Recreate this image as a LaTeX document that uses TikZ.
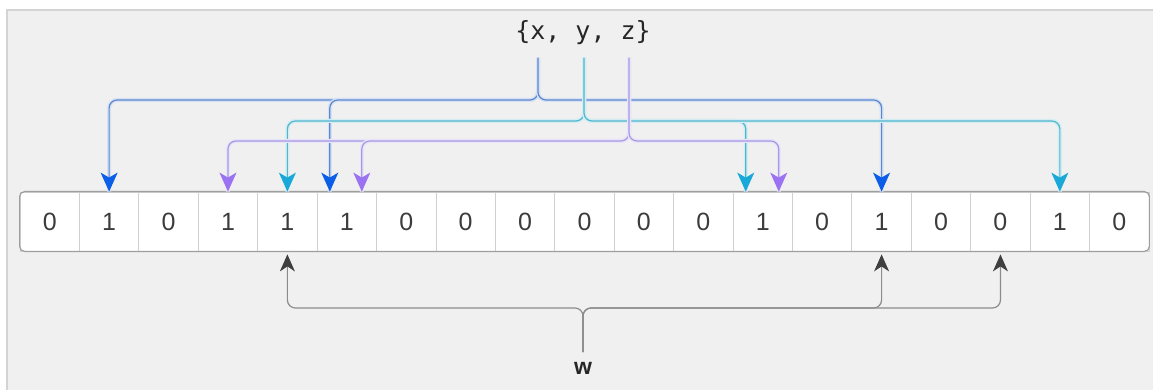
\documentclass[tikz,border=0pt]{standalone}
\usepackage{fontspec}
\setmainfont{Liberation Sans}
\newfontfamily\codefont{DejaVu Sans Mono}
\usetikzlibrary{arrows.meta}

\definecolor{panelbg}{HTML}{F0F0F0}
\definecolor{panelrule}{HTML}{D4D4D4}
\definecolor{cellrule}{HTML}{D0D0D0}
\definecolor{arrayrule}{HTML}{9E9E9E}
\definecolor{digit}{HTML}{3C3C3C}
\definecolor{xline}{HTML}{5A86CF}
\definecolor{xhead}{HTML}{0B5EE8}
\definecolor{yline}{HTML}{4FB6CF}
\definecolor{yhead}{HTML}{19A9D9}
\definecolor{zline}{HTML}{A797E4}
\definecolor{zhead}{HTML}{9B72F2}
\definecolor{wline}{HTML}{8C8C8C}
\definecolor{whead}{HTML}{3F3F3F}

\tikzset{
  cell/.style={draw=cellrule, fill=white, line width=0.8pt,
    minimum width=59.42pt, minimum height=59pt, inner sep=0pt,
    text=digit, font=\fontsize{25}{29}\selectfont},
  link/.style={line width=1.2pt, rounded corners=8pt,
    preaction={draw=#1!25, line width=4pt, -}},
  headtip/.style={-{Stealth[length=19pt,width=17pt,inset=5pt,color=#1]}},
  xlink/.style={link=xline, draw=xline, headtip=xhead},
  ylink/.style={link=yline, draw=yline, headtip=yhead},
  zlink/.style={link=zline, draw=zline, headtip=zhead},
  wlink/.style={line width=1.2pt, rounded corners=8pt, draw=wline, shorten >=3pt,
    -{Stealth[length=17pt,width=15pt,inset=5pt,color=whead]}},
}

\begin{document}
\begin{tikzpicture}[x=1pt, y=-1pt]
  \useasboundingbox (0,0) rectangle (1153,390);

  % panel
  \fill[panelbg] (7,10) rectangle (1153,390);
  \draw[panelrule, line width=1.2pt] (7,390) -- (7,10) -- (1153,10);

  % bit array
  \foreach \v [count=\i from 0] in {0,1,0,1,1,1,0,0,0,0,0,0,1,0,1,0,0,1,0}
    \node[cell] (c\i) at ({20+59.42*(\i+0.5)}, 221.5) {\v};
  \draw[arrayrule, line width=1.2pt, rounded corners=5pt]
    (c0.north west) rectangle (c18.south east);

  % element set and its hash fan-out
  \node[font=\codefont\fontsize{25}{29}\selectfont, text=black!85] (xyz) at (583,33) {\{x, y, z\}};
  \coordinate (sx) at (538,58);
  \coordinate (sy) at (584,58);
  \coordinate (sz) at (629,58);

  \draw[xlink] (sx) -- ++(0,42) -| (c1.north);
  \draw[xlink] (sx) -- ++(0,42) -| ([xshift=-17pt]c5.north);
  \draw[xlink] (sx) -- ++(0,42) -| (c14.north);

  \draw[ylink] (sy) -- ++(0,63) -| (c4.north);
  \draw[ylink] (sy) -- ++(0,63) -| ([xshift=-17pt]c12.north);
  \draw[ylink] (sy) -- ++(0,63) -| (c17.north);

  \draw[zlink] (sz) -- ++(0,83) -| (c3.north);
  \draw[zlink] (sz) -- ++(0,83) -| ([xshift=15pt]c5.north);
  \draw[zlink] (sz) -- ++(0,83) -| ([xshift=16pt]c12.north);

  % query element
  \node[font=\bfseries\fontsize{23}{27}\selectfont, text=black!85] (w) at (583,368) {w};
  \coordinate (sw) at (583,352);
  \draw[wlink] (sw) -- ++(0,-44) -| (c4.south);
  \draw[wlink] (sw) -- ++(0,-44) -| (c14.south);
  \draw[wlink] (sw) -- ++(0,-44) -| (c16.south);
\end{tikzpicture}
\end{document}
